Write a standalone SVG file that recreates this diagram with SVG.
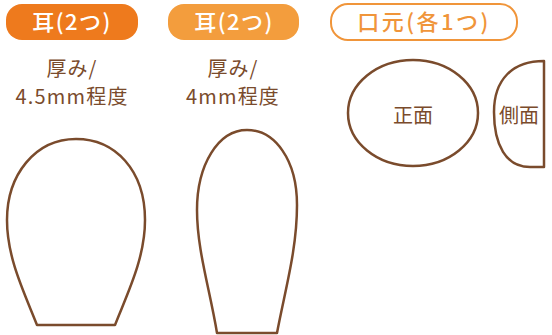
<svg xmlns="http://www.w3.org/2000/svg" width="552" height="335" viewBox="0 0 552 335">
<style>
.lbl{font-family:"Noto Sans CJK JP","Noto Sans",sans-serif;font-size:20px;text-anchor:middle}
.pill{font-size:22px;font-weight:500;letter-spacing:1.5px}
.w{fill:#fff}
.br{fill:#7a4b2c}
.or{fill:#f0953a}
.shape{fill:#fff;stroke:#7a4b2c;stroke-width:2.5;stroke-linejoin:round}
</style>
<g id="pill1"><rect x="6" y="4" width="132" height="36" rx="16" fill="#ee7a1d"/><text class="lbl pill w" x="72" y="30">耳(2つ)</text></g>
<g id="pill2"><rect x="168" y="4" width="131" height="36" rx="16" fill="#f39d3d"/><text class="lbl pill w" x="234" y="30">耳(2つ)</text></g>
<g id="pill3"><rect x="331" y="4" width="186" height="36" rx="17" fill="#fff" stroke="#f0953a" stroke-width="2"/><text class="lbl pill or" x="424" y="30" style="letter-spacing:2.5px">口元(各1つ)</text></g>
<g id="note1"><text class="lbl br" x="72" y="76" style="letter-spacing:1px">厚み/</text><text class="lbl br" x="72" y="104" style="letter-spacing:1.2px">4.5mm程度</text></g>
<g id="note2"><text class="lbl br" x="233" y="76" style="letter-spacing:1px">厚み/</text><text class="lbl br" x="233" y="104" style="letter-spacing:1.2px">4mm程度</text></g>
<g id="ear1"><path class="shape" d="M37,325 L115,325 C128,292 145,258 145,220 C145,170 115,139 76,139 C35,139 7,175 7,220 C7,258 24,292 37,325 Z"/></g>
<g id="ear2"><path class="shape" d="M217,333 L277,333 C285,290 297,250 297,205 C297,160 275,130 247,130 C218,130 197,165 197,210 C197,250 210,290 217,333 Z"/></g>
<g id="front"><ellipse class="shape" cx="413" cy="113" rx="65" ry="53"/><text class="lbl br" x="413" y="123">正面</text></g>
<g id="side"><path class="shape" d="M544,61 C512,61 494,80 494,112 C494,145 506,167 530,167 L544,167 Z"/><text class="lbl br" x="519" y="123">側面</text></g>
<g id="connectors"/>
</svg>
